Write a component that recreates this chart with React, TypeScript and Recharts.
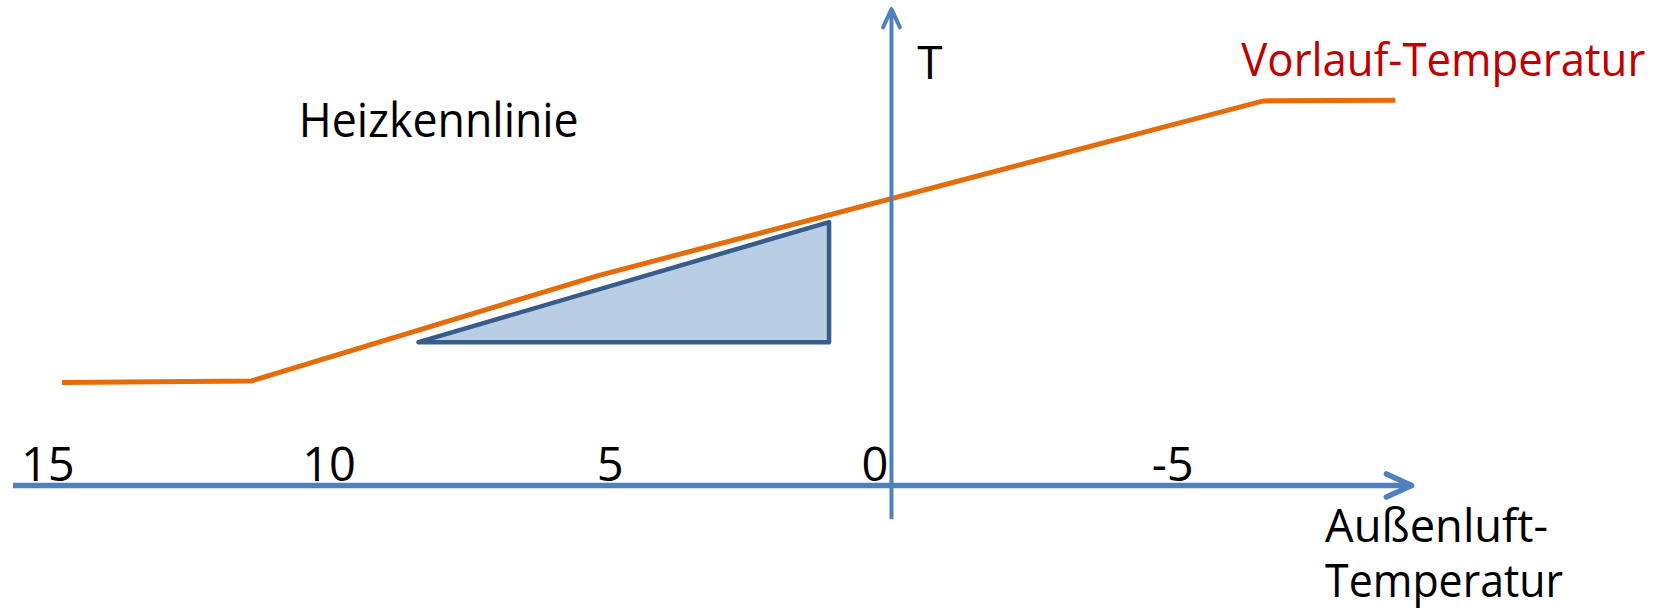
import { Area, ComposedChart, Line, ReferenceDot, ReferenceLine, XAxis, YAxis } from "recharts"

// Heizkennlinie: Außenluft-Temperatur (°C) -> Vorlauf-Temperatur T
const kennlinieAussen = [14.75, 11.38, 5.23, -6.61, -8.96]
const kennlinieVorlauf = [18.26, 18.56, 37.21, 68.26, 68.38]

// Steigungsdreieck unter der Kennlinie (geschlossener Umriss)
const dreieckAussen = [8.41, 1.11, 1.11, 8.41]
const dreieckVorlauf = [25.44, 46.76, 25.44, 25.44]

const xTicks = [15, 10, 5, 0, -5]
const xBereich = [-9.25, 15.62]
const yBereich = [0, 84.57]
const yAchseUnten = -6.0

// Beschriftungen (Text, Außentemperatur, T)
const texte = ['Heizkennlinie', 'T', 'Vorlauf-Temperatur', 'Außenluft-', 'Temperatur']
const texteAussen = [10.54, -0.46, -6.22, -7.71, -7.71]
const texteVorlauf = [61.8, 72.06, 72.65, -9.98, -19.8]

const kennlinie = kennlinieAussen.map((t, i) => ({ t, T: kennlinieVorlauf[i] }))
const dreieck = dreieckAussen.map((t, i) => ({ t, T: dreieckVorlauf[i] }))
const dreieckFlaeche = dreieck.slice(0, 3)

const FONT = '"Open Sans", "Noto Sans", sans-serif'
const BLAU = '#4F81BD'

const AussenTick = (props: any) => {
    const { x, y, payload } = props
    const null_ = payload.value === 0
    return (
        <text x={null_ ? x - 3 : x} y={y} textAnchor={null_ ? 'end' : 'middle'}
            fontSize={47} fontFamily={FONT} fill="#000">
            {payload.value}
        </text>
    )
}

const achse = (breite: number) => (p: any) => (
    <line x1={p.x1} y1={p.y1} x2={p.x2} y2={p.y2} stroke={BLAU} strokeWidth={breite} markerEnd="url(#pfeil)" />
)

const textStil = [
    { fontSize: 47, fill: '#000', len: 280 },
    { fontSize: 46, fill: '#000', len: 0 },
    { fontSize: 45, fill: '#C00000', len: 404 },
    { fontSize: 46, fill: '#000', len: 223 },
    { fontSize: 45, fill: '#000', len: 238 },
]

const App = () => {
    return (
        <div style={{ position: 'absolute', left: 0, top: 0, background: '#fff' }}>
            <ComposedChart width={1663} height={610} margin={{ top: 9, right: 251.3, bottom: 124.5, left: 13 }}>
                <defs>
                    <marker id="pfeil" viewBox="-7 -4 8 8" refX={0} refY={0} markerWidth={8} markerHeight={8}
                        orient="auto" markerUnits="strokeWidth">
                        <path d="M-4.6,-2.1 L0,0 L-4.6,2.1" fill="none" stroke={BLAU} strokeWidth={1}
                            strokeLinecap="round" strokeLinejoin="round" />
                    </marker>
                </defs>
                <XAxis type="number" dataKey="t" domain={xBereich} reversed allowDataOverflow
                    ticks={xTicks} interval={0} mirror height={40} axisLine={false} tickLine={false}
                    tickSize={2} tickMargin={3} tick={AussenTick} />
                <YAxis type="number" dataKey="T" domain={yBereich} allowDataOverflow hide />
                <Area data={dreieckFlaeche} dataKey="T" type="linear" baseValue={dreieckVorlauf[0]}
                    stroke="none" fill="#B9CDE5" fillOpacity={1} isAnimationActive={false} />
                <Line data={dreieck} dataKey="T" type="linear" stroke="#385D8A" strokeWidth={4.5}
                    strokeLinejoin="round" strokeLinecap="round" dot={false} isAnimationActive={false} />
                <Line data={kennlinie} dataKey="T" type="linear" stroke="#E46C0A" strokeWidth={5}
                    dot={false} isAnimationActive={false} />
                <ReferenceLine segment={[{ x: xBereich[1], y: 0 }, { x: xBereich[0], y: 0 }]}
                    ifOverflow="visible" shape={achse(5.5)} />
                <ReferenceLine segment={[{ x: 0, y: yAchseUnten }, { x: 0, y: yBereich[1] }]}
                    ifOverflow="visible" shape={achse(4)} />
                {texte.map((text, i) => (
                    <ReferenceDot key={text} x={texteAussen[i]} y={texteVorlauf[i]} r={0} ifOverflow="visible"
                        shape={(p: any) => (
                            <text x={p.cx} y={p.cy} fontSize={textStil[i].fontSize} fontFamily={FONT}
                                fill={textStil[i].fill}
                                {...(textStil[i].len ? { textLength: textStil[i].len, lengthAdjust: 'spacingAndGlyphs' } : {})}>
                                {text}
                            </text>
                        )} />
                ))}
            </ComposedChart>
        </div>
    )
}

export default App
